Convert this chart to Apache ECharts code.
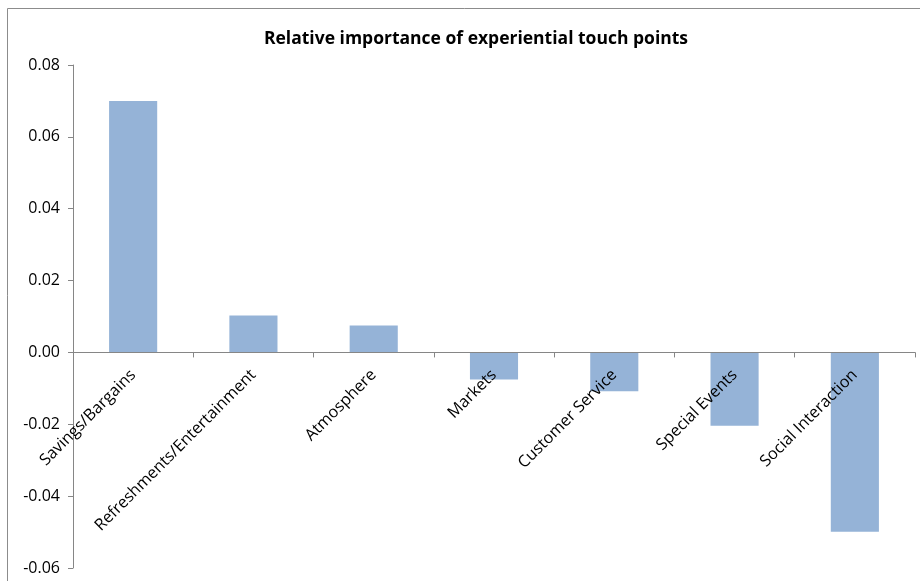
<!DOCTYPE html>
<html>
<head>
<meta charset="utf-8">
<script src="https://cdn.jsdelivr.net/npm/echarts@6/dist/echarts.min.js"></script>
<style>
  html, body { margin: 0; padding: 0; background: #fff; }
  #chart { width: 920px; height: 581px; }
</style>
</head>
<body>
<div id="chart"></div>
<script>
const categories = [
  'Savings/Bargains',
  'Refreshments/Entertainment',
  'Atmosphere',
  'Markets',
  'Customer Service',
  'Special Events',
  'Social Interaction'
];
const values = [0.070, 0.0103, 0.0075, -0.0075, -0.0108, -0.0204, -0.0499];
const titleText = 'Relative importance of experiential touch points';

const yMin = -0.06, yMax = 0.08;
const font = '"Open Sans", "Noto Sans", sans-serif';
const axisGrey = '#868686';

const gridTop = 65, gridBottom = 13, chartH = 581;
const plotH = chartH - gridTop - gridBottom;
// move the category axis (line + labels) up to the zero line
const zeroOffset = -plotH * (0 - yMin) / (yMax - yMin);

const chart = echarts.init(document.getElementById('chart'));

chart.setOption({
  animation: false,
  title: {
    text: titleText,
    left: 471,
    textAlign: 'center',
    top: 25,
    textStyle: { fontFamily: font, fontSize: 17.5, fontWeight: 'bold', color: '#000' }
  },
  // outer chart frame, runs off the right and bottom of the picture
  graphic: [{
    type: 'rect',
    shape: { x: 7.5, y: 8.5, width: 1000, height: 1000 },
    style: { fill: 'none', stroke: '#8c8c8c', lineWidth: 1 },
    silent: true
  }],
  grid: {
    left: 73,
    right: 5,
    top: gridTop,
    bottom: gridBottom,
    containLabel: false,
    outerBoundsMode: 'none'
  },
  xAxis: {
    type: 'category',
    data: categories,
    offset: zeroOffset,
    z: 5,
    axisLine: { onZero: false, lineStyle: { color: axisGrey, width: 1 } },
    axisTick: { show: true, alignWithLabel: false, length: 5, lineStyle: { color: axisGrey } },
    axisLabel: {
      rotate: 45,
      margin: 20,
      interval: 0,
      fontFamily: font,
      fontSize: 16.2,
      color: '#000'
    },
    splitLine: { show: false }
  },
  yAxis: {
    type: 'value',
    min: yMin,
    max: yMax,
    interval: 0.02,
    axisLine: { show: true, lineStyle: { color: axisGrey, width: 1 } },
    axisTick: { show: true, length: 5, lineStyle: { color: axisGrey } },
    axisLabel: {
      margin: 13,
      fontFamily: font,
      fontSize: 16,
      color: '#000',
      formatter: v => v.toFixed(2)
    },
    splitLine: { show: false }
  },
  series: [{
    type: 'bar',
    data: values,
    barWidth: '40%',
    itemStyle: { color: '#95B3D7' }
  }]
});
</script>
</body>
</html>
